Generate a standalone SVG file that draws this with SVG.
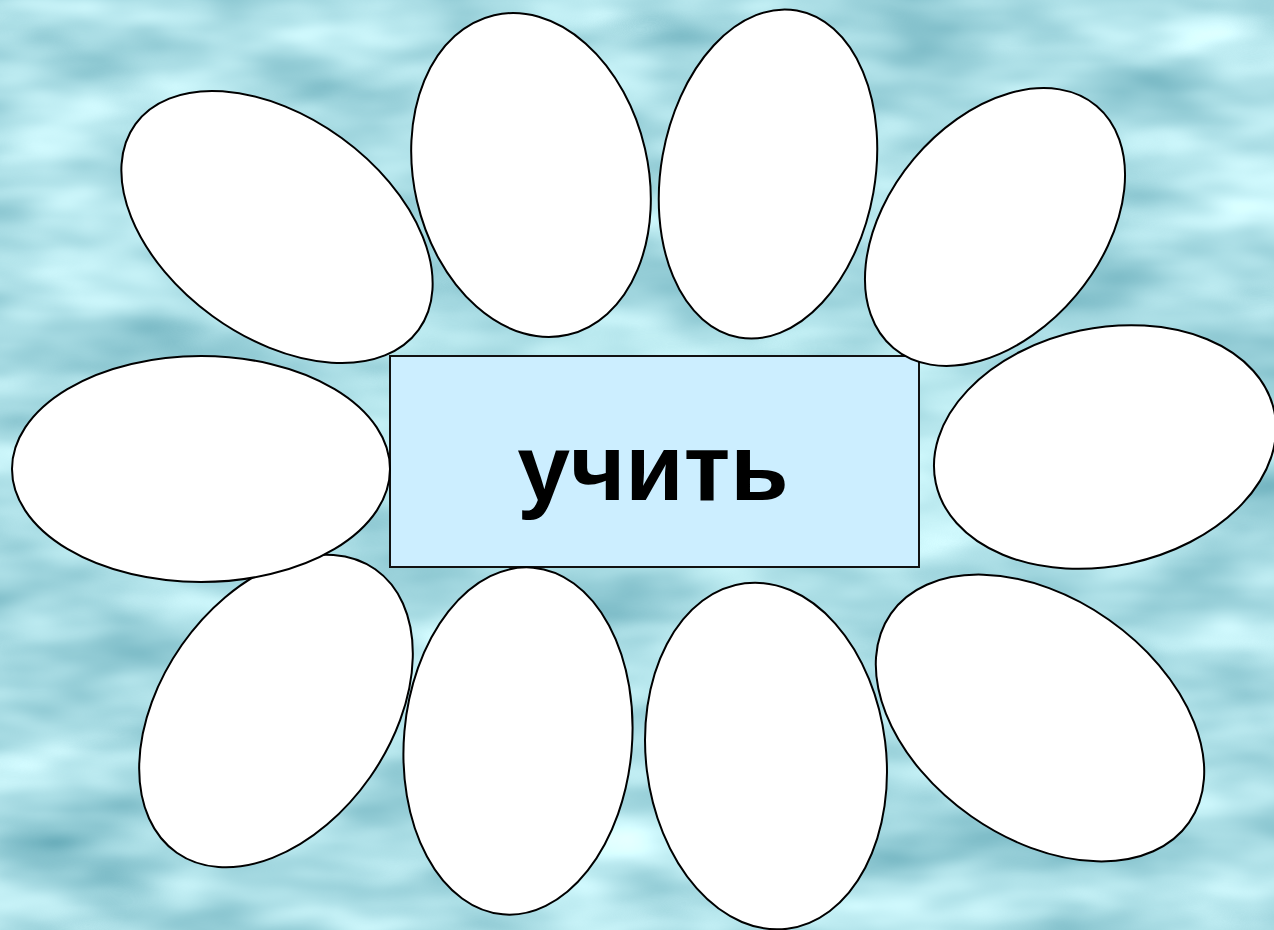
<svg xmlns="http://www.w3.org/2000/svg" width="1274" height="930" viewBox="0 0 1274 930">
  <defs>
    <filter id="water" x="0" y="0" width="1274" height="930" filterUnits="userSpaceOnUse" color-interpolation-filters="sRGB">
      <feTurbulence type="fractalNoise" baseFrequency="0.006 0.016" numOctaves="3" seed="7" result="n"/>
      <feColorMatrix in="n" type="matrix" values="0.575 0 0 0 0.3775  0.425 0 0 0 0.6525  0.375 0 0 0 0.7075  0 0 0 0 1"/>
    </filter>
    <style>
      .petal { fill: #ffffff; stroke: #000000; stroke-width: 2; }
      .center { fill: #cceeff; stroke: #111111; stroke-width: 2; }
      .label { font-family: "Liberation Sans", Arial, sans-serif; font-weight: bold; font-size: 95px; fill: #000000; text-anchor: middle; }
    </style>
  </defs>
  <rect x="0" y="0" width="1274" height="930" fill="#aadde5"/>
  <rect x="0" y="0" width="1274" height="930" filter="url(#water)"/>

  <g id="center">
    <rect class="center" x="390" y="356" width="529" height="211"/>
    <text class="label" x="653" y="500">учить</text>
  </g>

  <g id="petals">
    <g id="petal-top-left"><ellipse class="petal" cx="277" cy="227" rx="175" ry="110" transform="rotate(36 277 227)"/></g>
    <g id="petal-top-2"><ellipse class="petal" cx="531" cy="175" rx="117" ry="164" transform="rotate(-13 531 175)"/></g>
    <g id="petal-top-3"><ellipse class="petal" cx="768" cy="174" rx="107" ry="166" transform="rotate(10 768 174)"/></g>
    <g id="petal-top-right"><ellipse class="petal" cx="995" cy="227" rx="158" ry="106" transform="rotate(-50 995 227)"/></g>
    <g id="petal-right"><ellipse class="petal" cx="1105" cy="447" rx="173" ry="119" transform="rotate(-12 1105 447)"/></g>
    <g id="petal-bottom-right"><ellipse class="petal" cx="1040" cy="718" rx="182" ry="120" transform="rotate(35 1040 718)"/></g>
    <g id="petal-bottom-3"><ellipse class="petal" cx="766" cy="756" rx="120" ry="174" transform="rotate(-7 766 756)"/></g>
    <g id="petal-bottom-2"><ellipse class="petal" cx="518" cy="741" rx="114" ry="174" transform="rotate(5 518 741)"/></g>
    <g id="petal-bottom-left"><ellipse class="petal" cx="276" cy="711" rx="115" ry="173" transform="rotate(35 276 711)"/></g>
    <g id="petal-left"><ellipse class="petal" cx="201" cy="469" rx="189" ry="113"/></g>
  </g>
  <g id="connectors"/>
</svg>
